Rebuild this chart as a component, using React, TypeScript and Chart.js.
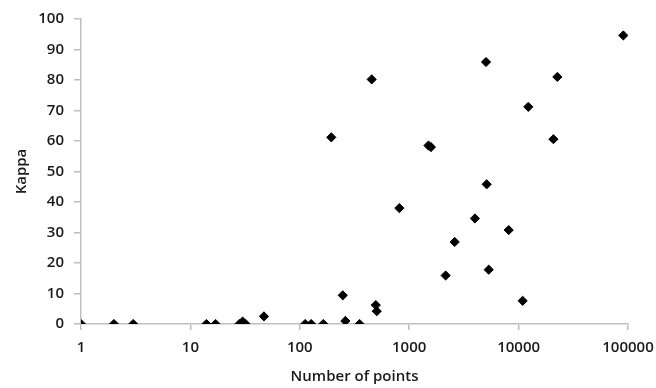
import React, { useEffect, useRef } from "react";
import { Chart, registerables } from "chart.js";

Chart.register(...registerables);

const pointsX: number[] = [1, 2, 3, 14, 17, 28, 30, 32, 47, 112, 127, 164, 194, 247, 261, 352, 454, 495, 505, 813, 1500, 1580, 2153, 2605, 3990, 5036, 5108, 5333, 8116, 10890, 12270, 20800, 22600, 90600];
const kappaY: number[] = [0, 0, 0, 0, 0, 0, 0.8, 0, 2.5, 0, 0, 0, 61.2, 9.4, 1, 0, 80.2, 6.2, 4.2, 38, 58.5, 58, 15.9, 26.9, 34.6, 85.9, 45.8, 17.8, 30.8, 7.6, 71.2, 60.6, 81, 94.6];
const xTickValues: number[] = [1, 10, 100, 1000, 10000, 100000];
const yTickValues: number[] = [0, 10, 20, 30, 40, 50, 60, 70, 80, 90, 100];
const xTitle = "Number of points";
const yTitle = "Kappa";

const W = 656;
const H = 388;

export default function App() {
  const ref = useRef<HTMLCanvasElement | null>(null);
  useEffect(() => {
    document.body.style.margin = "0";
    const canvas = ref.current!;
    const font = { family: "'Open Sans', 'Noto Sans', sans-serif", size: 15, weight: "600" as any };
    const axisColor = "#bfbfbf";
    const textColor = "#1a1a1a";
    const chart = new Chart(canvas, {
      type: "scatter",
      data: {
        datasets: [
          {
            data: pointsX.map((x, i) => ({ x, y: kappaY[i] })),
            pointStyle: "rectRot",
            pointRadius: 4.6,
            pointBorderWidth: 1,
            backgroundColor: "#000",
            borderColor: "#000",
          },
        ],
      },
      options: {
        animation: false,
        responsive: false,
        layout: { padding: { left: 10, top: 10, right: 0, bottom: 2 } },
        plugins: { legend: { display: false }, tooltip: { enabled: false } },
        scales: {
          x: {
            type: "logarithmic",
            min: 1,
            max: 100000,
            afterBuildTicks: (s: any) => {
              s.ticks = xTickValues.map((v) => ({ value: v }));
            },
            afterFit: (s: any) => {
              s.height = H - 324 - 2;
              s.paddingRight = 28;
              s.paddingLeft = 4;
            },
            ticks: {
              color: textColor,
              font,
              maxRotation: 0,
              autoSkip: false,
              padding: 9,
              callback: (v: any) => String(v),
            },
            grid: { drawOnChartArea: false, drawTicks: true, tickLength: 6, color: axisColor, lineWidth: 1.5 },
            border: { color: axisColor, width: 1.5 },
            title: { display: true, text: xTitle, color: textColor, font, padding: { top: 0, bottom: 0 } },
          },
          y: {
            min: 0,
            max: 100,
            afterBuildTicks: (s: any) => {
              s.ticks = yTickValues.map((v) => ({ value: v }));
            },
            afterFit: (s: any) => {
              s.width = 81 - 10;
            },
            ticks: { color: textColor, font, padding: 10 },
            grid: { drawOnChartArea: false, drawTicks: true, tickLength: 7, color: axisColor, lineWidth: 1.5 },
            border: { color: axisColor, width: 1.5 },
            title: { display: true, text: yTitle, color: textColor, font, padding: { top: 3, bottom: 4 } },
          },
        },
      },
    });
    return () => chart.destroy();
  }, []);
  return (
    <div style={{ width: W, height: H }}>
      <canvas ref={ref} width={W} height={H} style={{ display: "block", width: W, height: H }} />
    </div>
  );
}
